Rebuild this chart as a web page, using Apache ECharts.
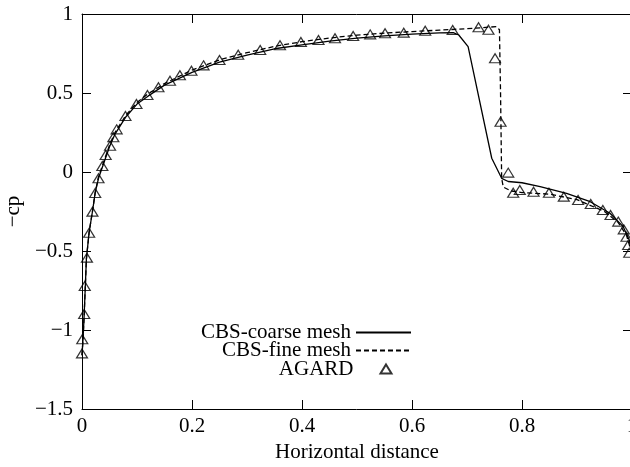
<!DOCTYPE html>
<html>
<head>
<meta charset="utf-8">
<script src="https://cdn.jsdelivr.net/npm/echarts@6/dist/echarts.min.js"></script>
<style>
html, body { margin: 0; padding: 0; background: #fff; }
#chart { width: 630px; height: 467px; }
</style>
</head>
<body>
<div id="chart"></div>
<script>
// axis ticks
const xTicks = [0, 0.2, 0.4, 0.6, 0.8, 1];
const yTicks = [-1.5, -1, -0.5, 0, 0.5, 1];

// CBS coarse mesh (solid)
const coarseX = [0, 0.002, 0.004, 0.008, 0.013, 0.019, 0.024, 0.03, 0.04, 0.05, 0.06, 0.08, 0.1, 0.12, 0.15, 0.2, 0.25, 0.3, 0.35, 0.4, 0.45, 0.5, 0.55, 0.6, 0.65, 0.675, 0.685, 0.702, 0.745, 0.763, 0.775, 0.8, 0.833, 0.881, 0.924, 0.96, 0.984, 0.995, 1.0];
const coarseY = [-1.16, -1.05, -0.9, -0.55, -0.38, -0.25, -0.13, -0.04, 0.06, 0.16, 0.24, 0.35, 0.43, 0.48, 0.55, 0.63, 0.695, 0.74, 0.78, 0.805, 0.828, 0.847, 0.862, 0.873, 0.88, 0.882, 0.867, 0.793, 0.087, -0.04, -0.06, -0.068, -0.093, -0.135, -0.188, -0.261, -0.346, -0.43, -0.5];

// CBS fine mesh (dashed)
const fineX = [0, 0.002, 0.004, 0.008, 0.013, 0.019, 0.024, 0.03, 0.04, 0.05, 0.06, 0.08, 0.1, 0.12, 0.15, 0.2, 0.25, 0.3, 0.35, 0.4, 0.45, 0.5, 0.55, 0.6, 0.65, 0.7, 0.754, 0.759, 0.761, 0.763, 0.766, 0.78, 0.8, 0.85, 0.9, 0.95, 0.975, 0.99, 1.0];
const fineY = [-1.16, -1.05, -0.9, -0.55, -0.38, -0.25, -0.13, -0.03, 0.07, 0.17, 0.25, 0.36, 0.44, 0.495, 0.56, 0.645, 0.71, 0.755, 0.795, 0.825, 0.848, 0.866, 0.879, 0.889, 0.898, 0.907, 0.92, 0.9, 0.5, -0.04, -0.095, -0.12, -0.13, -0.14, -0.175, -0.25, -0.32, -0.4, -0.52];

// AGARD experiment (triangles)
const agardX = [0, 0.0005, 0.004, 0.005, 0.009, 0.013, 0.019, 0.024, 0.030, 0.037, 0.043, 0.051, 0.057, 0.063, 0.079, 0.099, 0.119, 0.139, 0.160, 0.178, 0.199, 0.221, 0.250, 0.284, 0.324, 0.360, 0.398, 0.430, 0.460, 0.493, 0.524, 0.551, 0.585, 0.624, 0.674, 0.721, 0.739, 0.751, 0.761, 0.775, 0.784, 0.796, 0.821, 0.849, 0.876, 0.902, 0.925, 0.947, 0.961, 0.975, 0.985, 0.990, 0.993, 0.995];
const agardY = [-1.148, -1.059, -0.899, -0.722, -0.542, -0.384, -0.251, -0.133, -0.040, 0.038, 0.108, 0.166, 0.220, 0.270, 0.354, 0.430, 0.487, 0.536, 0.578, 0.612, 0.641, 0.675, 0.709, 0.742, 0.772, 0.802, 0.823, 0.835, 0.846, 0.861, 0.871, 0.878, 0.882, 0.894, 0.899, 0.916, 0.900, 0.720, 0.318, -0.004, -0.131, -0.114, -0.125, -0.131, -0.156, -0.177, -0.203, -0.241, -0.272, -0.314, -0.363, -0.410, -0.462, -0.511];

const pairs = (xs, ys) => xs.map((x, i) => [x, ys[i]]);
const minus = v => String(v).replace('-', '\u2212');
const font = 'Liberation Serif';
const fs = 21;

const chart = echarts.init(document.getElementById('chart'), null, { renderer: 'canvas' });

const baseX = {
    type: 'value', min: 0, max: 1, interval: 0.2,
    axisLine: { show: true, onZero: false, lineStyle: { color: '#000', width: 1 } },
    axisTick: { show: true, inside: true, length: 9, lineStyle: { color: '#000', width: 1 } },
    splitLine: { show: false }
};
const baseY = {
    type: 'value', min: -1.5, max: 1, interval: 0.5,
    axisLine: { show: true, onZero: false, lineStyle: { color: '#000', width: 1 } },
    axisTick: { show: true, inside: true, length: 9, lineStyle: { color: '#000', width: 1 } },
    splitLine: { show: false }
};

const legendText = { fontFamily: font, fontSize: fs, color: '#000' };
const noDot = { opacity: 0 };

chart.setOption({
    animation: false,
    grid: { left: 82, right: -2, top: 14, bottom: 58, containLabel: false, outerBoundsMode: 'none' },
    legend: [
        {
            orient: 'vertical',
            align: 'right',
            right: 218,
            top: 322,
            padding: 0,
            itemWidth: 55,
            itemHeight: 12,
            itemGap: -3,
            selectedMode: false,
            textStyle: legendText,
            data: [
                { name: 'CBS-coarse mesh', itemStyle: noDot },
                { name: 'CBS-fine mesh', itemStyle: noDot }
            ]
        },
        {
            orient: 'vertical',
            align: 'right',
            right: 237.5,
            top: 358.5,
            padding: 0,
            itemWidth: 11,
            itemHeight: 9,
            selectedMode: false,
            textStyle: Object.assign({ padding: [0, 22, 0, 0] }, legendText),
            data: ['AGARD']
        }
    ],
    xAxis: [
        Object.assign({}, baseX, {
            position: 'bottom',
            name: 'Horizontal distance', nameLocation: 'middle', nameGap: 30,
            nameTextStyle: { fontFamily: font, fontSize: fs, color: '#000' },
            axisLabel: { margin: 7, fontFamily: font, fontSize: fs, color: '#000', formatter: minus }
        }),
        Object.assign({}, baseX, { position: 'top', axisLabel: { show: false } })
    ],
    yAxis: [
        Object.assign({}, baseY, {
            position: 'left',
            name: '\u2212cp', nameLocation: 'middle', nameGap: 57,
            nameTextStyle: { fontFamily: font, fontSize: fs, color: '#000' },
            axisLabel: { margin: 9, fontFamily: font, fontSize: fs, color: '#000', formatter: minus }
        }),
        Object.assign({}, baseY, { position: 'right', axisLabel: { show: false } })
    ],
    series: [
        {
            name: 'CBS-coarse mesh', type: 'line', data: pairs(coarseX, coarseY),
            symbol: 'none', smooth: false,
            lineStyle: { color: '#000', width: 1.3, type: 'solid' },
            itemStyle: { color: '#000' }
        },
        {
            name: 'CBS-fine mesh', type: 'line', data: pairs(fineX, fineY),
            symbol: 'none', smooth: false,
            lineStyle: { color: '#000', width: 1.3, type: [5, 3] },
            itemStyle: { color: '#000' }
        },
        {
            name: 'AGARD', type: 'scatter', data: pairs(agardX, agardY),
            symbol: 'triangle', symbolSize: [11, 9],
            itemStyle: { color: 'rgba(255,255,255,0)', borderColor: '#000', borderWidth: 1.2 },
            z: 5
        }
    ]
});
</script>
</body>
</html>
